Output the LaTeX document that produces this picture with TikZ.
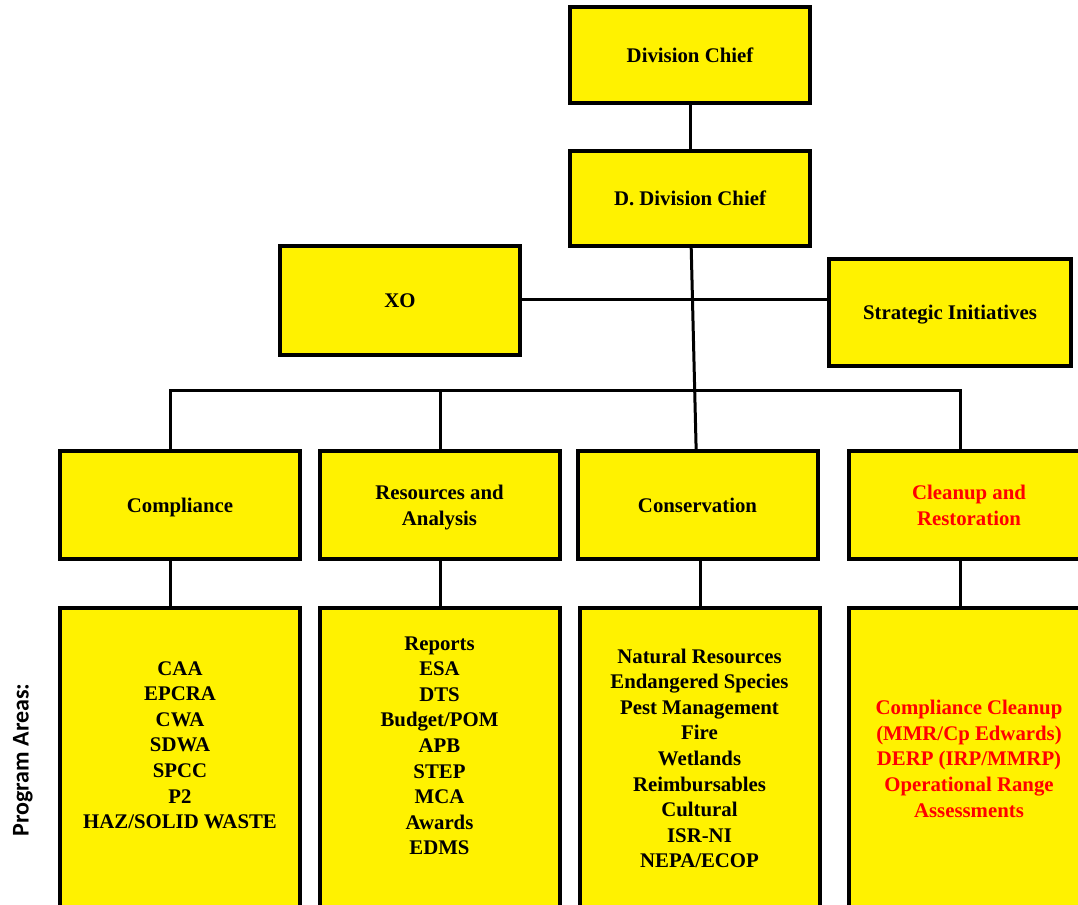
\documentclass[tikz,border=0pt]{standalone}
\usepackage{fontspec}
\setmainfont{Liberation Serif}
\newfontfamily\sidefont{Carlito}
\usepackage{tikz}
\usetikzlibrary{positioning}

% list of program areas, first line on the baseline
\newcommand\arealist[1]{\begin{tabular}[t]{@{}c@{}}#1\end{tabular}}

\tikzset{
	unit/.style={draw=black, line width=3pt, fill=yellow, minimum width=180pt,
		inner sep=2pt, font=\bfseries\fontsize{15.6}{19.2}\selectfont},
	head/.style={unit, align=center, text depth=0pt},
	areas/.style={unit, anchor=north, text depth=260pt},
	link/.style={line width=2.25pt},
	cleanup/.style={text=red}
}

\begin{document}
\begin{tikzpicture}[x=0.75pt, y=-0.75pt]

	% ------------------------------------------------
	% Page frame
	\useasboundingbox (0,0) rectangle (1078,904);
	\clip (0,0) rectangle (1078,904);

	% ------------------------------------------------
	% Top of the division
	\node[head, minimum height=72pt] (Chief) at (690,55) {Division Chief};
	\node[head, minimum height=71.25pt] (Deputy) at (690,198.5) {D. Division Chief};

	\node[head, minimum height=82pt] (XO) at (400,300.5) {XO};
	\node[head, minimum width=181.5pt, minimum height=80pt] (Strategic) at (950,312.5) {Strategic Initiatives};

	% ----------------
	% Branches
	\node[head, minimum height=81pt] (Comp)  at (180,505)   {Compliance};
	\node[head, minimum height=81pt] (Res)   at (439.5,505) {Resources and\\Analysis};
	\node[head, minimum height=81pt] (Cons)  at (697.5,505) {Conservation};
	\node[head, minimum height=81pt, cleanup] (Clean) at (969,505) {Cleanup and\\Restoration};

	% ----------------
	% Program areas
	\node[areas, text height=48.25pt] (CompList) at (180,606)
		{\arealist{CAA\\EPCRA\\CWA\\SDWA\\SPCC\\P2\\HAZ/SOLID WASTE}};
	\node[areas, text height=29.5pt] (ResList) at (439.5,606)
		{\arealist{Reports\\ESA\\DTS\\Budget/POM\\APB\\STEP\\MCA\\Awards\\EDMS}};
	\node[areas, text height=39.25pt] (ConsList) at (699.5,606)
		{\arealist{Natural Resources\\Endangered Species\\Pest Management\\Fire\\Wetlands\\Reimbursables\\Cultural\\ISR-NI\\NEPA/ECOP}};
	\node[areas, cleanup, text height=78pt] (CleanList) at (969,606)
		{\arealist{Compliance Cleanup\\(MMR/Cp Edwards)\\DERP (IRP/MMRP)\\Operational Range\\Assessments}};

	\node[rotate=90, inner sep=0pt, font=\sidefont\bfseries\fontsize{18}{20}\selectfont] (Areas) at (23,760) {Program Areas:};

	% ------------------------------------------------
	% Relevant coordinates
	\coordinate (Bar)      at (0,390);
	\coordinate (CompTap)  at (170,0);
	\coordinate (ResTap)   at (440,0);
	\coordinate (ConsTap)  at (700,0);
	\coordinate (CleanTap) at (960,0);

	%%%%%%%%%%%%%%%%%%%%%%%%%%%%%%%%%%%%%%%%%
	%Connectors
	\draw[link] (Chief) -- (Deputy);
	\draw[link] (Deputy) -- (Cons);
	\draw[link] (XO.east |- 0,299) -- (Strategic.west |- 0,299);

	\draw[link] (CompTap |- Comp.north) -- (CompTap |- Bar) -- (CleanTap |- Bar) -- (CleanTap |- Clean.north);
	\draw[link] (ResTap |- Bar) -- (ResTap |- Res.north);

	\draw[link] (CompTap |- Comp.south) -- (CompTap |- CompList.north);
	\draw[link] (ResTap |- Res.south) -- (ResTap |- ResList.north);
	\draw[link] (ConsTap |- Cons.south) -- (ConsTap |- ConsList.north);
	\draw[link] (CleanTap |- Clean.south) -- (CleanTap |- CleanList.north);

\end{tikzpicture}
\end{document}
